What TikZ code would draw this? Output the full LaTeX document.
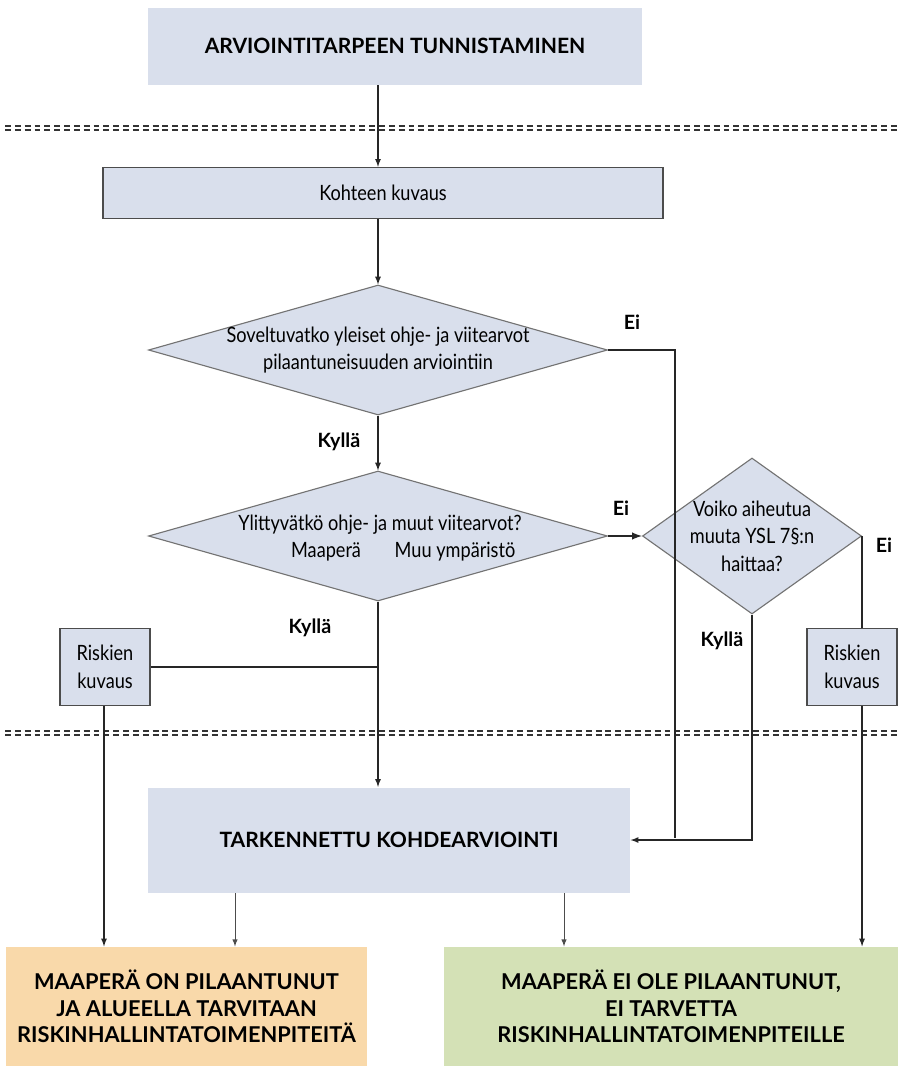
\documentclass[tikz,border=0pt]{standalone}
\usepackage{fontspec}
\setmainfont{Lato}[FakeStretch=0.86]
\newfontfamily\headfont{Lato}
\usetikzlibrary{shapes.geometric,arrows}

\def\px{0.025cm}
\definecolor{boxblue}{RGB}{217,223,236}
\definecolor{boxorange}{RGB}{249,217,170}
\definecolor{boxgreen}{RGB}{212,225,182}

\begin{document}
\begin{tikzpicture}[x=\px,y=-\px,->,>=latex,draw=black!85,line width=0.9pt]
    \tikzstyle{every node}=[font=\fontsize{15}{19.5}\selectfont]
    \tikzstyle{bigbox}=[rectangle,fill=boxblue,inner sep=0pt,font=\headfont\fontsize{15}{19}\bfseries\selectfont]
    \tikzstyle{smallbox}=[rectangle,fill=boxblue,draw=black!70,line width=1pt,inner sep=0pt,align=center]
    \tikzstyle{decision}=[diamond,fill=boxblue,draw=black!55,line width=0.8pt,inner sep=0pt,aspect=1]
    \tikzstyle{result}=[rectangle,inner sep=0pt,align=center,font=\headfont\fontsize{15.5}{19}\bfseries\selectfont]
    \tikzstyle{answer}=[font=\headfont\fontsize{14}{17}\bfseries\selectfont]
    \tikzstyle{divider}=[-,draw=black!80,line width=1.6pt,dash pattern=on 4.2pt off 2.8pt]
    \tikzstyle{thin}=[line width=0.7pt,draw=black!70]
    % Use the whole page
    \useasboundingbox (0,0) rectangle (898,1066);
    % Draw the boxes
    \node[bigbox, minimum width=494*\px, minimum height=77*\px] (top) at (395,46) {ARVIOINTITARPEEN TUNNISTAMINEN};
    \node[smallbox, minimum width=560*\px, minimum height=51*\px] (kohde) at (383,193) {Kohteen kuvaus};
    \node[decision, minimum width=459*\px, minimum height=130*\px] (d1) at (378,350) {};
    \node[align=center] (d1t) at (d1) {Soveltuvatko yleiset ohje- ja viitearvot\\pilaantuneisuuden arviointiin};
    \node[decision, minimum width=459*\px, minimum height=130*\px] (d2) at (378,536) {};
    \node[align=center] (d2t) at (380,538) {Ylittyvätkö ohje- ja muut viitearvot?\\\hspace*{2.2em}Maaperä\hspace{1.6em}Muu ympäristö};
    \node[decision, minimum width=219*\px, minimum height=156*\px] (d3) at (752,536) {};
    \node[align=center] (d3t) at (d3) {Voiko aiheutua\\muuta YSL 7§:n\\haittaa?};
    \node[bigbox, minimum width=482*\px, minimum height=105*\px] (tark) at (389,840) {TARKENNETTU KOHDEARVIOINTI};
    \node[result, fill=boxorange, minimum width=361*\px, minimum height=119*\px] (bad) at (186.5,1006.5)
        {MAAPERÄ ON PILAANTUNUT\\JA ALUEELLA TARVITAAN\\RISKINHALLINTATOIMENPITEITÄ};
    \node[result, fill=boxgreen, minimum width=454*\px, minimum height=119*\px] (good) at (671,1006.5)
        {MAAPERÄ EI OLE PILAANTUNUT,\\EI TARVETTA\\RISKINHALLINTATOIMENPITEILLE};
    % Section dividers
    \draw[divider] (5,126) -- (898,126);
    \draw[divider] (5,130) -- (898,130);
    \draw[divider] (5,731) -- (898,731);
    \draw[divider] (5,735) -- (898,735);
    % Draw the connectors
    \draw (top.south -| d1.north) -- (kohde.north -| d1.north);
    \draw (kohde.south -| d1.north) -- (d1.north);
    \draw (d1.south) -- (d2.north);
    \node[answer] (k1) at (339,442) {Kyllä};
    \coordinate (j) at (675,838);
    \draw[-] (d1.east) -| (j);
    \node[answer] (e1) at (632,322) {Ei};
    \draw[line width=1.4pt] (d2.east) -- (d3.west);
    \node[answer] (e2) at (621,508) {Ei};
    \draw (d3.south) |- (tark.east);
    \node[answer] (k3) at (722,641) {Kyllä};
    \draw (d2.south) -- (tark.north -| d2.south);
    \node[answer] (k2) at (310,628) {Kyllä};
    \node[answer] (e3) at (884,545) {Ei};
    \node[smallbox, minimum width=90*\px, minimum height=77*\px] (riskL) at (105,667) {Riskien\\kuvaus};
    \node[smallbox, minimum width=90*\px, minimum height=77*\px] (riskR) at (852,667) {Riskien\\kuvaus};
    \draw[-] (riskL.east) -- (riskL.east -| d2.south);
    \draw[-] (d3.east) -- (d3.east |- riskR.north);
    \draw (riskR.south -| d3.east) -- (good.north -| d3.east);
    % Drops into the result boxes
    \coordinate (xl) at (104,0);
    \coordinate (xa) at (235,0);
    \coordinate (xb) at (564,0);
    \draw (riskL.south -| xl) -- (bad.north -| xl);
    \draw[thin] (tark.south -| xa) -- (bad.north -| xa);
    \draw[thin] (tark.south -| xb) -- (good.north -| xb);
\end{tikzpicture}
\end{document}
